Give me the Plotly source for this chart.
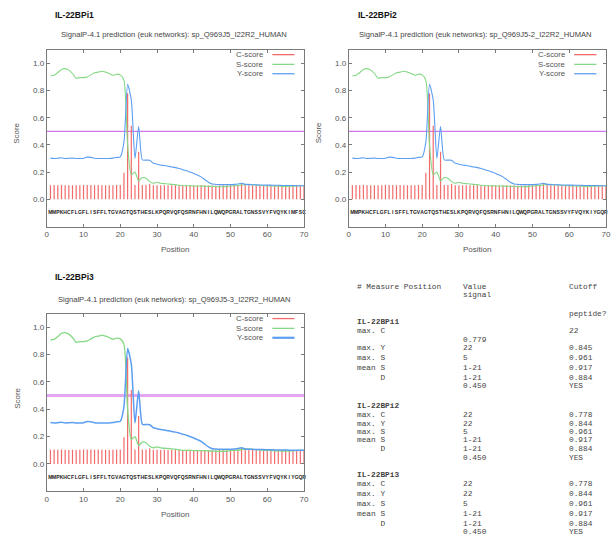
import plotly.graph_objects as go

# ---------------- data ----------------
positions = list(range(1, 71))

c_score_i1 = [0.104, 0.105, 0.104, 0.105, 0.104, 0.103, 0.104, 0.103, 0.104, 0.105,
              0.106, 0.105, 0.104, 0.105, 0.104, 0.104, 0.103, 0.104, 0.105, 0.106,
              0.196, 0.779, 0.541, 0.106, 0.350, 0.106, 0.105, 0.115, 0.104, 0.104,
              0.103, 0.104, 0.103, 0.104, 0.103, 0.102, 0.103, 0.102, 0.103, 0.102,
              0.102, 0.103, 0.102, 0.101, 0.102, 0.101, 0.102, 0.103, 0.104, 0.104,
              0.105, 0.106, 0.120, 0.105, 0.104, 0.103, 0.102, 0.103, 0.102, 0.101,
              0.102, 0.101, 0.102, 0.101, 0.102, 0.103, 0.102, 0.101, 0.102, 0.101]
c_score_i23 = c_score_i1[:21] + [0.778] + c_score_i1[22:]

s_score = [0.907, 0.912, 0.932, 0.955, 0.961, 0.950, 0.925, 0.890, 0.895, 0.895,
           0.900, 0.915, 0.930, 0.935, 0.942, 0.935, 0.925, 0.912, 0.920, 0.915,
           0.875, 0.400, 0.180, 0.200, 0.135, 0.160, 0.155, 0.130, 0.118, 0.125,
           0.118, 0.115, 0.113, 0.110, 0.108, 0.103, 0.100, 0.100, 0.100, 0.098,
           0.098, 0.097, 0.097, 0.095, 0.095, 0.093, 0.092, 0.093, 0.095, 0.098,
           0.100, 0.102, 0.105, 0.108, 0.110, 0.107, 0.105, 0.103, 0.100, 0.100,
           0.098, 0.097, 0.096, 0.095, 0.094, 0.095, 0.097, 0.098, 0.100, 0.100]

y_score = [0.303, 0.300, 0.302, 0.305, 0.300, 0.302, 0.303, 0.300, 0.300, 0.302,
           0.310, 0.308, 0.302, 0.300, 0.300, 0.300, 0.300, 0.303, 0.308, 0.312,
           0.420, 0.845, 0.730, 0.300, 0.535, 0.290, 0.288, 0.287, 0.265, 0.258,
           0.252, 0.248, 0.243, 0.238, 0.233, 0.226, 0.218, 0.210, 0.200, 0.190,
           0.178, 0.165, 0.145, 0.125, 0.112, 0.110, 0.108, 0.108, 0.108, 0.108,
           0.110, 0.113, 0.118, 0.110, 0.108, 0.107, 0.106, 0.105, 0.105, 0.104,
           0.104, 0.103, 0.103, 0.102, 0.102, 0.101, 0.101, 0.100, 0.100, 0.100]

seq_i1 = "MMPKHCFLGFLISFFLTGVAGTQSTHESLKPQRVQFQSRNFHNILQWQPGRALTGNSSVYFVQYKIMFSC"
seq_i23 = "MMPKHCFLGFLISFFLTGVAGTQSTHESLKPQRVQFQSRNFHNILQWQPGRALTGNSSVYFVQYKIYGQR"

d_cutoff = 0.5
x_ticks = [0, 10, 20, 30, 40, 50, 60, 70]
y_ticks = [0.0, 0.2, 0.4, 0.6, 0.8, 1.0]

panel_names = ["IL-22BPi1", "IL-22BPi2", "IL-22BPi3"]
panel_subtitles = ["SignalP-4.1 prediction (euk networks): sp_Q969J5_I22R2_HUMAN",
                   "SignalP-4.1 prediction (euk networks): sp_Q969J5-2_I22R2_HUMAN",
                   "SignalP-4.1 prediction (euk networks): sp_Q969J5-3_I22R2_HUMAN"]
legend_names = ["C-score", "S-score", "Y-score"]

table_rows = [
    ("# Measure Position", "Value", "Cutoff"),
    ("", "signal", ""),
    ("", "", "peptide?"),
    ("<b>IL-22BPi1</b>", "", ""),
    ("max. C", "", "22"),
    ("", "0.779", ""),
    ("max. Y", "22", "0.845"),
    ("max. S", "5", "0.961"),
    ("mean S", "1-21", "0.917"),
    ("     D", "1-21", "0.884"),
    ("", "0.450", "YES"),
    ("<b>IL-22BPi2</b>", "", ""),
    ("max. C", "22", "0.778"),
    ("max. Y", "22", "0.844"),
    ("max. S", "5", "0.961"),
    ("mean S", "1-21", "0.917"),
    ("     D", "1-21", "0.884"),
    ("", "0.450", "YES"),
    ("<b>IL-22BPi3</b>", "", ""),
    ("max. C", "22", "0.778"),
    ("max. Y", "22", "0.844"),
    ("max. S", "5", "0.961"),
    ("mean S", "1-21", "0.917"),
    ("     D", "1-21", "0.884"),
    ("", "0.450", "YES"),
]

# ---------------- layout helpers ----------------
W, H = 612, 549
def fx(p):
    return p / W
def fy(p):
    return 1 - p / H

RED = "#f36a6a"
GREEN = "#86d886"
BLUE = "#5c9ff2"
SANS = "Liberation Sans, Arial, sans-serif"
MONO = "Liberation Mono, Courier New, monospace"

panels = [
    dict(x0=45.3, x1=305.5, top=49.7, bot=226.5, tx=52, ty=15, sx=174, sy=34,
         scx=15, scy=133, pox=175, poy=249, seq=seq_i1, c=c_score_i1, thick=False),
    dict(x0=350.7, x1=610.9, top=49.7, bot=226.5, tx=358, ty=15, sx=479, sy=34,
         scx=321, scy=133, pox=480, poy=249, seq=seq_i23, c=c_score_i23, thick=False),
    dict(x0=45.3, x1=305.5, top=313.6, bot=491.3, tx=52, ty=277, sx=174, sy=299,
         scx=15, scy=398, pox=175, poy=514, seq=seq_i23, c=c_score_i23, thick=True),
]

fig = go.Figure()
annotations = []
shapes = []

for i, p in enumerate(panels):
    n = "" if i == 0 else str(i + 1)
    xa, ya = "x" + n, "y" + n
    lw = 1.3 if p["thick"] else 1.1

    # C-score impulses
    xs, ys = [], []
    for pos, v in zip(positions, p["c"]):
        xs += [pos, pos, None]
        ys += [0, v, None]
    fig.add_trace(go.Scatter(x=xs, y=ys, mode="lines", line=dict(color=RED, width=1.2),
                             xaxis=xa, yaxis=ya, showlegend=False, hoverinfo="skip"))
    fig.add_trace(go.Scatter(x=positions, y=s_score, mode="lines",
                             line=dict(color=GREEN, width=lw, shape="spline", smoothing=0.6),
                             xaxis=xa, yaxis=ya, showlegend=False))
    fig.add_trace(go.Scatter(x=positions, y=y_score, mode="lines",
                             line=dict(color=BLUE, width=lw + (0.2 if p["thick"] else 0),
                                       shape="spline", smoothing=0.6),
                             xaxis=xa, yaxis=ya, showlegend=False))
    # sequence letters
    fig.add_trace(go.Scatter(x=positions, y=[-0.1] * len(positions), mode="text",
                             text=list(p["seq"]),
                             textfont=dict(family=SANS, size=5, color="#222", weight="bold"),
                             xaxis=xa, yaxis=ya, showlegend=False, hoverinfo="skip",
                             cliponaxis=False))

    axis_common = dict(showgrid=False, zeroline=False, showline=True, mirror="ticks",
                       linecolor="#7a7a7a", linewidth=1, ticks="inside", ticklen=3,
                       tickcolor="#7a7a7a",
                       tickfont=dict(family=SANS, size=8, color="#555"))
    fig.update_layout(**{
        ("xaxis" + n): dict(axis_common, domain=[fx(p["x0"]), fx(p["x1"])],
                            range=[0, 70], tickvals=x_ticks, anchor=ya),
        ("yaxis" + n): dict(axis_common, domain=[fy(p["bot"]), fy(p["top"])],
                            range=[-0.2, 1.1], tickvals=y_ticks, tickformat=".1f",
                            anchor=xa),
    })

    # cutoff line
    shapes.append(dict(type="line", xref=xa + " domain", yref=ya, x0=0, x1=1,
                       y0=d_cutoff, y1=d_cutoff,
                       line=dict(color="#e4a6f2" if p["thick"] else "#cf78ee",
                                 width=3 if p["thick"] else 1.2), layer="below"))

    # legend
    leg_y = [0.972, 0.917, 0.864]
    for name, col, yy in zip(legend_names, [RED, GREEN, BLUE], leg_y):
        annotations.append(dict(text=name, xref=xa + " domain", yref=ya + " domain",
                                x=0.848, y=yy, xanchor="right", yanchor="middle",
                                showarrow=False,
                                font=dict(family=SANS, size=7.8, color="#555")))
        shapes.append(dict(type="line", xref=xa + " domain", yref=ya + " domain",
                           x0=0.877, x1=0.963, y0=yy, y1=yy,
                           line=dict(color=col, width=(2.2 if name == "Y-score" else 1.3)
                                     if p["thick"] else 1.3)))

    # titles
    annotations.append(dict(text="<b>" + panel_names[i] + "</b>", xref="paper", yref="paper",
                            x=fx(p["tx"]), y=fy(p["ty"]), xanchor="left", yanchor="middle",
                            showarrow=False, font=dict(family=SANS, size=8.5, color="#111")))
    annotations.append(dict(text=panel_subtitles[i], xref="paper", yref="paper",
                            x=fx(p["sx"]), y=fy(p["sy"]), xanchor="center", yanchor="middle",
                            showarrow=False, font=dict(family=SANS, size=7.6, color="#444")))
    annotations.append(dict(text="Score", xref="paper", yref="paper", textangle=-90,
                            x=fx(p["scx"]), y=fy(p["scy"]), xanchor="center", yanchor="middle",
                            showarrow=False, font=dict(family=SANS, size=8, color="#555")))
    annotations.append(dict(text="Position", xref="paper", yref="paper",
                            x=fx(p["pox"]), y=fy(p["poy"]), xanchor="center", yanchor="middle",
                            showarrow=False, font=dict(family=SANS, size=8, color="#555")))

# ---------------- results table ----------------
table_cols_px = [357, 464, 572]
table_rows_px = [287, 295, 314, 322, 331, 340, 348, 358, 368, 378, 386,
                 406, 415, 424, 432, 440, 449, 458,
                 475, 484, 494, 504, 514, 524, 532]
for row, ypx in zip(table_rows, table_rows_px):
    for cell, xpx in zip(row, table_cols_px):
        if cell:
            annotations.append(dict(text=cell.replace(" ", "&nbsp;"), xref="paper", yref="paper",
                                    x=fx(xpx), y=fy(ypx), xanchor="left", yanchor="middle",
                                    showarrow=False,
                                    font=dict(family=MONO, size=7.8, color="#444")))

fig.update_layout(width=W, height=H, margin=dict(l=0, r=0, t=0, b=0),
                  paper_bgcolor="white", plot_bgcolor="white",
                  annotations=annotations, shapes=shapes, showlegend=False)

fig.write_html("out.html", config={"displayModeBar": False},
               post_script="document.body.style.margin='0px';"
                           "document.body.style.overflow='hidden';")
